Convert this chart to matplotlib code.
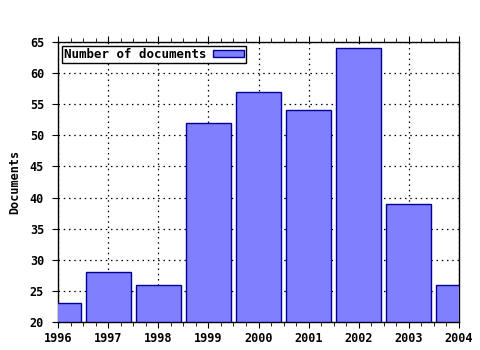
import matplotlib
matplotlib.use("Agg")
import matplotlib.pyplot as plt
from matplotlib.ticker import MultipleLocator

years = [1996, 1997, 1998, 1999, 2000, 2001, 2002, 2003, 2004]
documents = [23, 28, 26, 52, 57, 54, 64, 39, 26]
series_label = "Number of documents"
y_label = "Documents"

plt.rcParams['font.family'] = ['DejaVu Sans Mono']
plt.rcParams['font.weight'] = 'bold'

fig = plt.figure(figsize=(4.8, 3.5), dpi=100)
ax = fig.add_axes([58/480, 28/350, 401/480, 280/350])

ax.bar(years, [d - 20 for d in documents], bottom=20, width=0.9,
       color='#8080ff', edgecolor='#000099', linewidth=1.0,
       label=series_label, zorder=3)

ax.set_xlim(1996, 2004)
ax.set_ylim(20, 65)
ax.xaxis.set_major_locator(MultipleLocator(1))
ax.xaxis.set_minor_locator(MultipleLocator(0.25))
ax.yaxis.set_major_locator(MultipleLocator(5))
ax.grid(True, which='major', linestyle=(0, (1.2, 3)), color='black', linewidth=0.9, zorder=0)
ax.set_axisbelow(True)

ax.tick_params(axis='x', which='both', top=True, direction='out', labelsize=8.5)
ax.tick_params(axis='x', which='major', length=4)
ax.tick_params(axis='x', which='minor', length=3)
ax.tick_params(axis='y', which='both', right=False, direction='out', length=4, pad=6, labelsize=8.5)
for lab in ax.get_xticklabels() + ax.get_yticklabels():
    lab.set_fontweight('bold')

for s in ax.spines.values():
    s.set_linewidth(1.0)
    s.set_color('black')

ax.set_ylabel(y_label, fontsize=8.5, fontweight='bold', labelpad=6)

leg = ax.legend(loc='upper left', markerfirst=False, fancybox=False,
                frameon=True, edgecolor='black', framealpha=1, borderpad=0.15,
                handlelength=2.5, handleheight=0.5, handletextpad=0.5,
                borderaxespad=0.35,
                prop={'size': 9, 'weight': 'bold'})
leg.get_frame().set_linewidth(1.0)

fig.savefig("out.png", dpi=100)
